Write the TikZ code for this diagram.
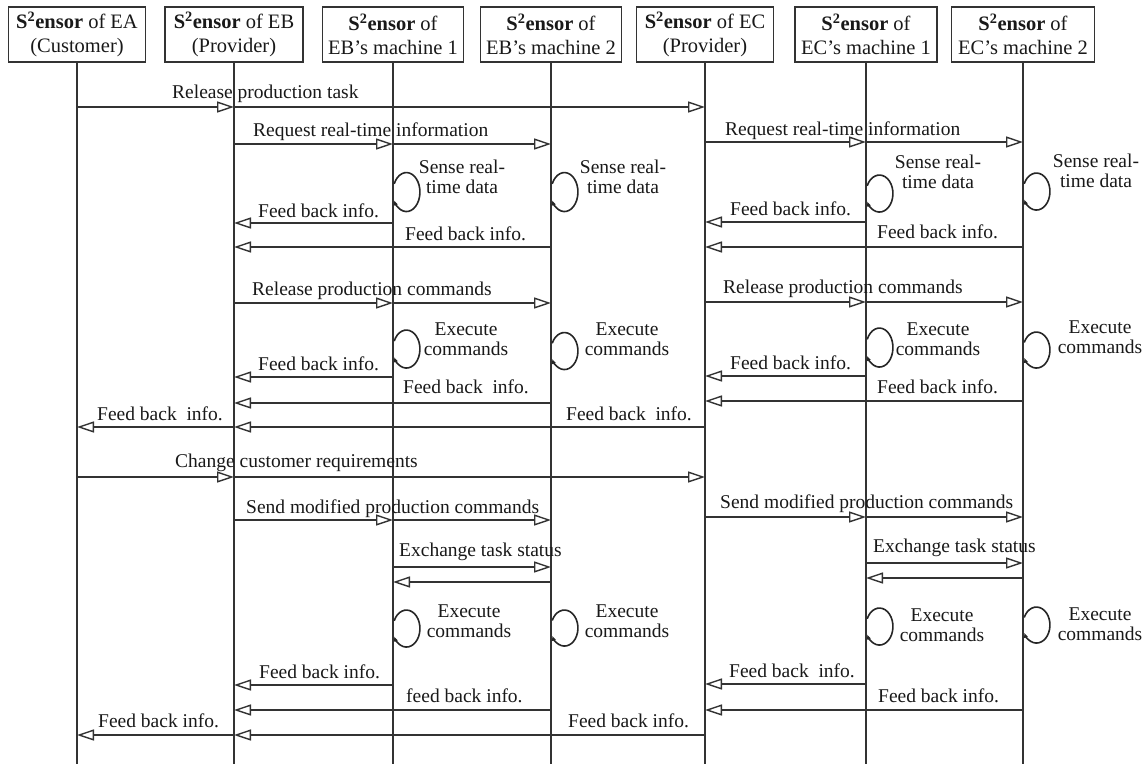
\documentclass[tikz,border=0pt]{standalone}
\usepackage{fontspec}
\setmainfont{Liberation Serif}
\usetikzlibrary{arrows.meta}
\newcommand\SSensor{\textbf{S\textsuperscript{2}ensor}}
% message between two lifelines at height #3
\newcommand\msgline[3]{\draw[msg] (#1 |- 0,#3) -- (#2 |- 0,#3);}
% self call on a lifeline: centre height #2, half height #3
\newcommand\selfloop[3]{\draw[selfarc, shift={(#1 |- 0,#2)}] (1.2,{-0.42*#3}) arc[start angle=-155, end angle=155, x radius=13.5, y radius=#3];}
\begin{document}
\begin{tikzpicture}[x=1pt,y=-1pt,
  head/.style={draw=black!80, line width=1.3pt, minimum height=55pt, inner sep=0pt,
    align=center, font=\fontsize{20.5}{24}\selectfont, text=black!90},
  life/.style={draw=black!80, line width=1.6pt},
  msg/.style={draw=black!80, line width=1.6pt,
    -{Triangle[open,length=17pt,width=11pt,line width=1.4pt]}},
  lbl/.style={anchor=base west, inner sep=0pt, font=\fontsize{19.5}{19}\selectfont, text=black!90},
  note/.style={anchor=center, inner sep=0pt, align=center,
    font=\fontsize{19.5}{19.5}\selectfont, text=black!90},
  selfarc/.style={draw=black!85, line width=1.6pt, -{Latex[length=5pt,width=4.5pt]}},
]
\fill[white] (0,0) rectangle (1147,764);
\useasboundingbox (0,0) rectangle (1147,764);

% participants
\node[head, minimum width=137pt] (ea) at (77,34.5)   {\SSensor{} of EA\\(Customer)};
\node[head, minimum width=138pt] (eb) at (234,34.5)  {\SSensor{} of EB\\(Provider)};
\node[head, minimum width=141pt] (b1) at (393,34.5)  {\SSensor{} of\\EB’s machine 1};
\node[head, minimum width=141pt] (b2) at (551,34.5)  {\SSensor{} of\\EB’s machine 2};
\node[head, minimum width=137pt] (ec) at (705,34.5)  {\SSensor{} of EC\\(Provider)};
\node[head, minimum width=142pt] (c1) at (866,34.5)  {\SSensor{} of\\EC’s machine 1};
\node[head, minimum width=143pt] (c2) at (1023,34.5) {\SSensor{} of\\EC’s machine 2};

% lifelines
\foreach \p in {ea,eb,b1,b2,ec,c1,c2}
  \draw[life] (\p.south) -- (\p.south |- 0,764);

% task release
\msgline{ea}{eb}{107}
\msgline{eb}{ec}{107}
\node[lbl] (t1) at (172,98) {Release production task};

% real-time information
\msgline{eb}{b1}{144}
\msgline{b1}{b2}{144}
\node[lbl] (t2) at (253,136) {Request real-time information};
\msgline{ec}{c1}{142}
\msgline{c1}{c2}{142}
\node[lbl] (t3) at (725,135) {Request real-time information};

\selfloop{b1}{192}{19.5}
\node[note] (s1) at (462,177) {Sense real-\\time data};
\selfloop{b2}{192}{19.5}
\node[note] (s2) at (623,177) {Sense real-\\time data};
\selfloop{c1}{193.5}{18.5}
\node[note] (s3) at (938,172) {Sense real-\\time data};
\selfloop{c2}{191.5}{18.5}
\node[note] (s4) at (1096,171) {Sense real-\\time data};

\msgline{b1}{eb}{223}
\node[lbl] (f1) at (258,217) {Feed back info.};
\msgline{b2}{eb}{247}
\node[lbl] (f2) at (405,240) {Feed back info.};
\msgline{c1}{ec}{222}
\node[lbl] (f3) at (730,215) {Feed back info.};
\msgline{c2}{ec}{247}
\node[lbl] (f4) at (877,238) {Feed back info.};

% production commands
\msgline{eb}{b1}{303}
\msgline{b1}{b2}{303}
\node[lbl] (p1) at (252,295) {Release production commands};
\msgline{ec}{c1}{302}
\msgline{c1}{c2}{302}
\node[lbl] (p2) at (723,293) {Release production commands};

\selfloop{b1}{349}{19}
\node[note] (e1) at (466,339) {Execute\\commands};
\selfloop{b2}{351}{18.5}
\node[note] (e2) at (627,339) {Execute\\commands};
\selfloop{c1}{347.5}{19.5}
\node[note] (e3) at (938,339) {Execute\\commands};
\selfloop{c2}{350}{18}
\node[note] (e4) at (1100,337) {Execute\\commands};

\msgline{b1}{eb}{377}
\node[lbl] (f5) at (258,370) {Feed back info.};
\msgline{b2}{eb}{403}
\node[lbl] (f6) at (403,393) {Feed back~ info.};
\msgline{c1}{ec}{376}
\node[lbl] (f7) at (730,369) {Feed back info.};
\msgline{c2}{ec}{401}
\node[lbl] (f8) at (877,393) {Feed back info.};

\msgline{eb}{ea}{427}
\node[lbl] (f9) at (97,420) {Feed back~ info.};
\msgline{ec}{eb}{427}
\node[lbl] (f10) at (566,420) {Feed back~ info.};

% changed requirements
\msgline{ea}{eb}{477}
\msgline{eb}{ec}{477}
\node[lbl] (r1) at (175,467) {Change customer requirements};

\msgline{eb}{b1}{520}
\msgline{b1}{b2}{520}
\node[lbl] (m1) at (246,513) {Send modified production commands};
\msgline{ec}{c1}{517}
\msgline{c1}{c2}{517}
\node[lbl] (m2) at (720,508) {Send modified production commands};

\msgline{b1}{b2}{567}
\msgline{b2}{b1}{582}
\node[lbl] (x1) at (399,556) {Exchange task status};
\msgline{c1}{c2}{563}
\msgline{c2}{c1}{578}
\node[lbl] (x2) at (873,552) {Exchange task status};

\selfloop{b1}{628.5}{18.5}
\node[note] (e5) at (469,621) {Execute\\commands};
\selfloop{b2}{628}{18}
\node[note] (e6) at (627,621) {Execute\\commands};
\selfloop{c1}{626.5}{18.5}
\node[note] (e7) at (942,625) {Execute\\commands};
\selfloop{c2}{625}{18}
\node[note] (e8) at (1100,624) {Execute\\commands};

\msgline{b1}{eb}{685}
\node[lbl] (f11) at (259,678) {Feed back info.};
\msgline{b2}{eb}{710}
\node[lbl] (f12) at (406,702) {feed back info.};
\msgline{c1}{ec}{684}
\node[lbl] (f13) at (729,677) {Feed back~ info.};
\msgline{c2}{ec}{710}
\node[lbl] (f14) at (878,702) {Feed back info.};

\msgline{eb}{ea}{735}
\node[lbl] (f15) at (98,727) {Feed back info.};
\msgline{ec}{eb}{735}
\node[lbl] (f16) at (568,727) {Feed back info.};
\end{tikzpicture}
\end{document}
